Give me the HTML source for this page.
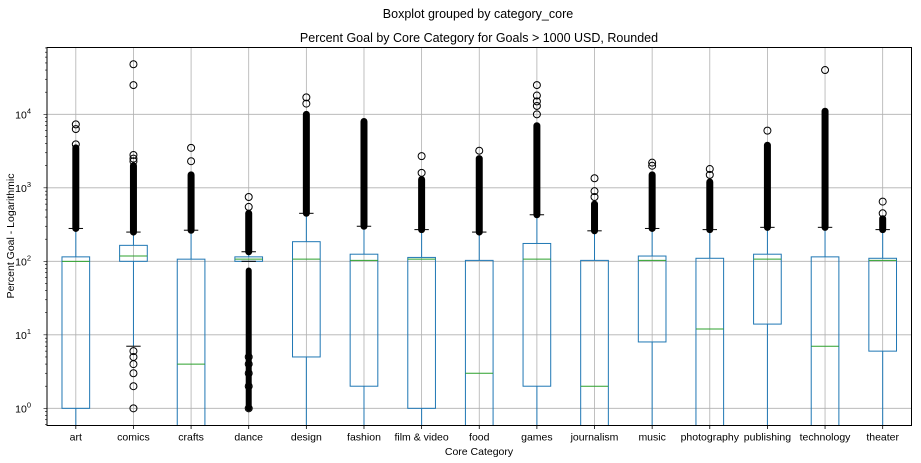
<!DOCTYPE html>
<html><head><meta charset="utf-8"><style>
body{margin:0;background:#fff;}
svg{display:block;font-family:"Liberation Sans","DejaVu Sans",sans-serif;}
</style></head><body>
<svg id="chart" width="921" height="463" viewBox="0 0 921 463" xmlns="http://www.w3.org/2000/svg">
<text x="478" y="18" font-size="12.5" text-anchor="middle">Boxplot grouped by category_core</text>
<text x="479" y="42" font-size="12.5" text-anchor="middle">Percent Goal by Core Category for Goals &gt; 1000 USD, Rounded</text>
<text x="479" y="455" font-size="10.5" text-anchor="middle">Core Category</text>
<text transform="translate(14,236) rotate(-90)" font-size="10.5" text-anchor="middle">Percent Goal - Logarithmic</text>
<g id="grid"></g><g id="marks"></g><g id="axes"></g>
</svg>
<script>
const categories=["art","comics","crafts","dance","design","fashion","film & video","food","games","journalism","music","photography","publishing","technology","theater"];
const whiskerLo=[0.1,7,0.1,100,0.1,0.1,0.1,0.1,0.1,0.1,0.1,0.1,0.1,0.1,0.1];
const q1=[1,100,0.3,100,5,2,1,0.3,2,0.3,8,0.3,14,0.3,6];
const medians=[100,118,4,107,107,103,107,3,107,2,103,12,107,7,103];
const q3=[115,165,107,115,185,125,113,103,175,103,118,110,125,115,110];
const whiskerHi=[280,250,265,135,450,300,270,250,430,260,280,270,290,290,270];
const denseHiTop=[3500,2000,1500,450,10000,8000,1300,2500,7000,600,1500,1200,3800,11000,380];
const outliersHi=[[3900,6300,7300],[2300,2500,2800,25000,48000],[2300,3500],[550,750],[14000,17000],[],[1600,2700],[3200],[10000,13000,15000,18000,25000],[750,900,1350],[2000,2200],[1500,1800],[6000],[40000],[450,650]];
const denseLo=[null,null,null,[1,75],null,null,null,null,null,null,null,null,null,null,null];
const outliersLo=[[],[1,2,3,4,5,6],[],[1,2,3,4,5],[],[],[],[],[],[],[],[],[],[],[]];
const yTicks=[1,10,100,1000,10000];
const yTickExp=["0","1","2","3","4"];

const L=47,R=911.5,T=47.5,B=425.5;
const LOGMIN=-0.2335,LOGMAX=4.909;
const ns="http://www.w3.org/2000/svg";
function y(v){const lv=Math.log10(Math.max(v,1e-3));return B-(lv-LOGMIN)/(LOGMAX-LOGMIN)*(B-T);}
const step=(R-L)/categories.length;
function x(i){return L+step*(i+0.5);}
function cy(v){return Math.min(B,Math.max(T,y(v)));}
function mk(tag,attrs,parent){const e=document.createElementNS(ns,tag);for(const k in attrs)e.setAttribute(k,attrs[k]);parent.appendChild(e);return e;}
const grid=document.getElementById('grid'),marks=document.getElementById('marks'),axes=document.getElementById('axes');
// grid
yTicks.forEach((t,k)=>{const l=mk('line',{x1:L,x2:R,y1:y(t),y2:y(t),stroke:'#b0b0b0','stroke-width':0.8},grid);

});
categories.forEach((c,i)=>{const l=mk('line',{x1:x(i),x2:x(i),y1:T,y2:B,stroke:'#b0b0b0','stroke-width':0.8},grid);

});
const bw=step*0.48,cw=step*0.25;
categories.forEach((c,i)=>{
 const g=mk('g',{},marks);
 
 
 const xi=x(i);
 mk('line',{x1:xi,x2:xi,y1:cy(q1[i]),y2:cy(whiskerLo[i]),stroke:'#1f77b4','stroke-width':1},g);
 mk('line',{x1:xi,x2:xi,y1:cy(q3[i]),y2:cy(whiskerHi[i]),stroke:'#1f77b4','stroke-width':1},g);
 mk('rect',{x:xi-bw/2,y:cy(q3[i]),width:bw,height:cy(q1[i])-cy(q3[i]),fill:'none',stroke:'#1f77b4','stroke-width':1},g);
 mk('line',{x1:xi-bw/2,x2:xi+bw/2,y1:cy(medians[i]),y2:cy(medians[i]),stroke:'#2ca02c','stroke-width':1},g);
 mk('line',{x1:xi-cw/2,x2:xi+cw/2,y1:cy(whiskerHi[i]),y2:cy(whiskerHi[i]),stroke:'#000','stroke-width':1},g);
 if(y(whiskerLo[i])<B) mk('line',{x1:xi-cw/2,x2:xi+cw/2,y1:y(whiskerLo[i]),y2:y(whiskerLo[i]),stroke:'#000','stroke-width':1},g);
 // dense outliers
 const y1=y(denseHiTop[i]),y2=y(whiskerHi[i]);
 mk('rect',{x:xi-3.5,y:y1-3.5,width:7,height:y2-y1+7,rx:3.5,fill:'#000'},g);
 if(denseLo[i]){const a=y(denseLo[i][1]),b=y(denseLo[i][0]);mk('rect',{x:xi-3,y:a-3,width:6,height:b-a+6,rx:3,fill:'#000'},g);}
 outliersHi[i].concat(outliersLo[i]).forEach(v=>{
  const o=mk('circle',{cx:xi,cy:y(v),r:3.5,fill:'none',stroke:'#000','stroke-width':1},g);
  
  
 });
 const t=mk('text',{x:xi,y:B+15,'font-size':10.5,'text-anchor':'middle'},axes);t.textContent=c;
 
 
 mk('line',{x1:xi,x2:xi,y1:B,y2:B+3.5,stroke:'#000','stroke-width':0.8},axes);
});
// y ticks
for(let d=-1;d<=4;d++){for(let m=1;m<10;m++){const v=m*Math.pow(10,d);const yy=y(v);if(yy<T||yy>B)continue;
 mk('line',{x1:L-(m==1?3.5:2),x2:L,y1:yy,y2:yy,stroke:'#000','stroke-width':0.6},axes);}}
yTicks.forEach((t,k)=>{const tx=mk('text',{x:L-16,y:y(t)+4,'font-size':10.5,'text-anchor':'end'},axes);
 
 
 tx.textContent='10';
 const s=mk('tspan',{dy:-5,'font-size':7.5},tx);s.textContent=yTickExp[k];});
const fr=mk('rect',{x:L,y:T,width:R-L,height:B-T,fill:'none',stroke:'#000','stroke-width':1},axes);


</script>
</body></html>
